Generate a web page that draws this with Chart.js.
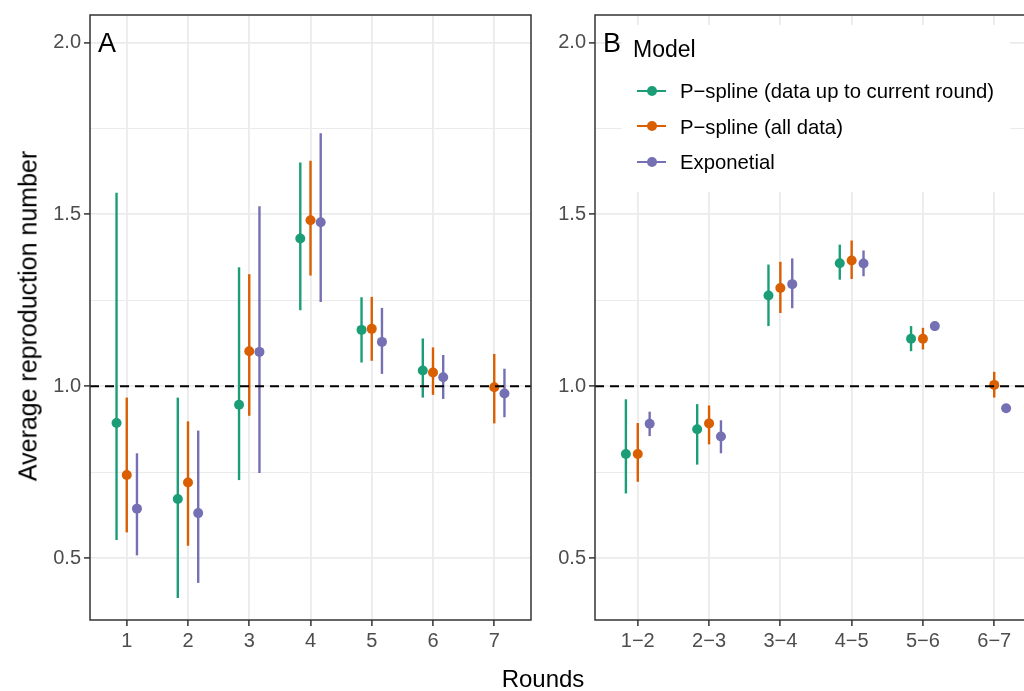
<!DOCTYPE html>
<html>
<head>
<meta charset="utf-8">
<script src="https://cdn.jsdelivr.net/npm/chart.js@4/dist/chart.umd.min.js"></script>
<style>
  html, body { margin: 0; padding: 0; background: #fff; }
  #wrap { position: relative; width: 1024px; height: 691px; overflow: hidden;
          font-family: "Liberation Sans", Arial, Helvetica, sans-serif; color: #000; }
  canvas { position: absolute; top: 0; }
  #cA { left: 0; }
  #cB { left: 540px; }
  .txt { position: absolute; white-space: nowrap; line-height: 1; }
  .tag { font-size: 27px; top: 30px; }
  #ytitle { font-size: 25px; left: 28px; top: 316px; transform: translate(-50%, -50%) rotate(-90deg); }
  #xtitle { font-size: 24px; left: 543px; top: 667px; transform: translateX(-50%); }
  #legend { position: absolute; left: 622px; top: 25px; width: 388px; height: 167px; background: #fff; }
  #legtitle { font-size: 23px; left: 11px; top: 13px; }
  .item { font-size: 20.3px; }
  .keyline { position: absolute; height: 2px; width: 29px; }
  .keydot { position: absolute; width: 10px; height: 10px; border-radius: 50%; }
</style>
</head>
<body>
<div id="wrap">
  <canvas id="cA" width="540" height="691"></canvas>
  <canvas id="cB" width="506" height="691"></canvas>
  <div class="txt tag" style="left:98px">A</div>
  <div class="txt tag" style="left:603px">B</div>
  <div class="txt" id="ytitle">Average reproduction number</div>
  <div class="txt" id="xtitle">Rounds</div>
  <div id="legend"><div class="txt" id="legtitle">Model</div></div>
</div>
<script>
// categories
const roundsA = ["1", "2", "3", "4", "5", "6", "7"];
const roundsB = ["1\u22122", "2\u22123", "3\u22124", "4\u22125", "5\u22126", "6\u22127"];
const seriesNames = ["P\u2212spline (data up to current round)", "P\u2212spline (all data)", "Exponetial"];
const colors = ["#1B9E77", "#D95F02", "#7570B3"];

// panel A: estimate, lower, upper
const curA    = [0.893, 0.672, 0.946, 1.430, 1.164, 1.046, null];
const curA_lo = [0.553, 0.384, 0.727, 1.221, 1.069, 0.967, null];
const curA_hi = [1.563, 0.967, 1.346, 1.651, 1.259, 1.139, null];
const allA    = [0.742, 0.720, 1.102, 1.483, 1.167, 1.040, 0.997];
const allA_lo = [0.575, 0.536, 0.914, 1.322, 1.074, 0.975, 0.892];
const allA_hi = [0.967, 0.898, 1.326, 1.656, 1.260, 1.113, 1.094];
const expA    = [0.644, 0.631, 1.100, 1.477, 1.129, 1.026, 0.979];
const expA_lo = [0.508, 0.428, 0.748, 1.245, 1.036, 0.963, 0.910];
const expA_hi = [0.805, 0.871, 1.524, 1.736, 1.228, 1.091, 1.051];

// panel B
const curB    = [0.803, 0.875, 1.264, 1.358, 1.138, null];
const curB_lo = [0.688, 0.772, 1.175, 1.310, 1.102, null];
const curB_hi = [0.962, 0.948, 1.354, 1.412, 1.175, null];
const allB    = [0.803, 0.892, 1.286, 1.366, 1.138, 1.004];
const allB_lo = [0.722, 0.831, 1.213, 1.312, 1.107, 0.967];
const allB_hi = [0.893, 0.944, 1.362, 1.424, 1.170, 1.042];
const expB    = [0.891, 0.854, 1.297, 1.357, 1.175, 0.936];
const expB_lo = [0.855, 0.805, 1.227, 1.320, 1.161, 0.932];
const expB_hi = [0.926, 0.901, 1.372, 1.395, 1.189, 0.940];

// axis
const yMajor = [0.5, 1.0, 1.5, 2.0];
const yMinor = [0.75, 1.25, 1.75];
const yMin = 0.32, yMax = 2.08;
const refValue = 1;
const dodge = [-1 / 6, 0, 1 / 6];

Chart.defaults.font.family = "'Liberation Sans', Arial, Helvetica, sans-serif";
Chart.defaults.color = "#4D4D4D";

// vertical interval under each point, drawn just before its dataset
const errorBars = {
  id: "errorBars",
  beforeDatasetDraw(chart, args) {
    const ds = chart.data.datasets[args.index];
    const xs = chart.scales.x, ys = chart.scales.y;
    const ctx = chart.ctx;
    ctx.save();
    ctx.strokeStyle = ds.borderColor;
    ctx.lineWidth = 2.4;
    ds.data.forEach((p) => {
      const x = xs.getPixelForValue(p.x);
      ctx.beginPath();
      ctx.moveTo(x, ys.getPixelForValue(p.lo));
      ctx.lineTo(x, ys.getPixelForValue(p.hi));
      ctx.stroke();
    });
    ctx.restore();
  },
};

const refLine = {
  id: "refLine",
  afterDatasetsDraw(chart) {
    const a = chart.chartArea;
    const y = chart.scales.y.getPixelForValue(refValue);
    const ctx = chart.ctx;
    ctx.save();
    ctx.strokeStyle = "#000";
    ctx.lineWidth = 2.2;
    ctx.setLineDash([9, 6]);
    ctx.beginPath();
    ctx.moveTo(a.left, y);
    ctx.lineTo(a.right, y);
    ctx.stroke();
    ctx.restore();
  },
};

const panelBorder = {
  id: "panelBorder",
  afterDraw(chart) {
    const a = chart.chartArea;
    const ctx = chart.ctx;
    ctx.save();
    ctx.strokeStyle = "#333333";
    ctx.lineWidth = 1.5;
    ctx.strokeRect(a.left, a.top, a.right - a.left, a.bottom - a.top);
    ctx.restore();
  },
};

function buildPanel(id, cats, mids, los, his, yWidth) {
  const datasets = mids.map((mid, s) => ({
    label: seriesNames[s],
    data: mid
      .map((v, i) => (v === null ? null : { x: i + 1 + dodge[s], y: v, lo: los[s][i], hi: his[s][i] }))
      .filter((p) => p),
    backgroundColor: colors[s],
    borderColor: colors[s],
    pointRadius: 5,
    pointHoverRadius: 5,
    pointBorderWidth: 0,
    showLine: false,
  }));

  const yTicks = yMajor.concat(yMinor).sort((a, b) => a - b);
  const isMajor = (v) => yMajor.some((m) => Math.abs(m - v) < 1e-9);

  return new Chart(document.getElementById(id), {
    type: "scatter",
    data: { datasets },
    options: {
      responsive: false,
      animation: false,
      events: [],
      layout: { padding: { top: 11, right: 9, left: 0, bottom: 0 } },
      plugins: { legend: { display: false }, tooltip: { enabled: false } },
      scales: {
        x: {
          type: "linear",
          min: 0.4,
          max: cats.length + 0.6,
          afterBuildTicks: (sc) => { sc.ticks = cats.map((c, i) => ({ value: i + 1 })); },
          afterFit: (sc) => { sc.height = 71; },
          ticks: {
            callback: (v, i) => cats[i],
            font: { size: 20 },
            color: "#4D4D4D",
            padding: 3,
            maxRotation: 0,
            autoSkip: false,
          },
          grid: { color: "#EBEBEB", lineWidth: 1.8, tickColor: "#333333", tickLength: 6, tickWidth: 1.5 },
          border: { display: false },
        },
        y: {
          type: "linear",
          min: yMin,
          max: yMax,
          afterBuildTicks: (sc) => { sc.ticks = yTicks.map((v) => ({ value: v })); },
          afterFit: (sc) => { sc.width = yWidth; },
          ticks: {
            callback: (v) => (isMajor(v) ? v.toFixed(1) : ""),
            font: { size: 20 },
            color: "#4D4D4D",
            padding: 3,
            autoSkip: false,
          },
          grid: {
            color: "#EBEBEB",
            lineWidth: (c) => (c.tick && !isMajor(c.tick.value) ? 1.1 : 1.8),
            tickColor: (c) => (c.tick && !isMajor(c.tick.value) ? "rgba(0,0,0,0)" : "#333333"),
            tickLength: 6,
            tickWidth: 1.5,
          },
          border: { display: false },
        },
      },
    },
    plugins: [errorBars, refLine, panelBorder],
  });
}

buildPanel("cA", roundsA, [curA, allA, expA], [curA_lo, allA_lo, expA_lo], [curA_hi, allA_hi, expA_hi], 90);
buildPanel("cB", roundsB, [curB, allB, expB], [curB_lo, allB_lo, expB_lo], [curB_hi, allB_hi, expB_hi], 55);

// legend inside panel B
const legend = document.getElementById("legend");
seriesNames.forEach((name, s) => {
  const cy = 65.7 + 35.5 * s;
  const line = document.createElement("div");
  line.className = "keyline";
  line.style.cssText = "left:15px;top:" + (cy - 1) + "px;background:" + colors[s];
  const dot = document.createElement("div");
  dot.className = "keydot";
  dot.style.cssText = "left:" + (30 - 5) + "px;top:" + (cy - 5) + "px;background:" + colors[s];
  const label = document.createElement("div");
  label.className = "txt item";
  label.style.cssText = "left:58px;top:" + (56.2 + 35.5 * s) + "px";
  label.textContent = name;
  legend.appendChild(line);
  legend.appendChild(dot);
  legend.appendChild(label);
});
</script>
</body>
</html>
